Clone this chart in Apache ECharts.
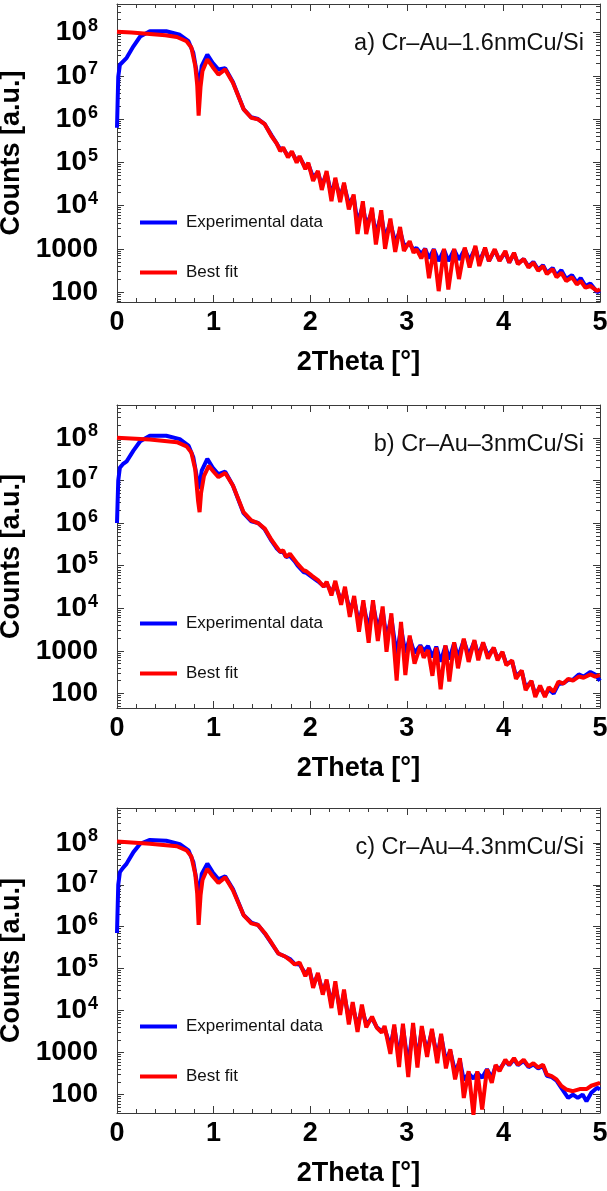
<!DOCTYPE html>
<html>
<head>
<meta charset="utf-8">
<script src="https://cdn.jsdelivr.net/npm/echarts@6/dist/echarts.min.js"></script>
<style>
  html, body { margin: 0; padding: 0; background: #fff; }
  #chart { width: 607px; height: 1191px; }
</style>
</head>
<body>
<div id="chart"></div>
<script>
// X-ray reflectivity curves: measured counts vs. 2Theta, with the best model fit.
// Each series is a list of [2Theta (deg), counts].

const sampleLabels = ['a) Cr\u2013Au\u20131.6nmCu/Si', 'b) Cr\u2013Au\u20133nmCu/Si', 'c) Cr\u2013Au\u20134.3nmCu/Si'];
const seriesNames = ['Experimental data', 'Best fit'];
const xTickValues = [0, 1, 2, 3, 4, 5];
const yDecades = [2, 3, 4, 5, 6, 7, 8];

// ---- a) 1.6 nm Cu ----
const expA = [
  [0, 6.3e5], [0.013, 9.5e6], [0.03, 1.8e7], [0.05, 2.0e7], [0.1, 2.6e7], [0.17, 4.8e7], [0.24, 8.1e7],
  [0.34, 1.07e8], [0.51, 1.07e8], [0.65, 8.9e7], [0.74, 6.3e7], [0.79, 3.4e7], [0.825, 1.2e7], [0.845, 4.0e6],
  [0.877, 1.7e7], [0.935, 3.1e7], [0.99, 2.0e7], [1.05, 1.4e7], [1.12, 1.5e7], [1.2, 7.2e6], [1.31, 1.7e6],
  [1.39, 1.1e6], [1.46, 1.0e6], [1.53, 7.6e5], [1.6, 4.2e5], [1.65, 2.8e5], [1.69, 2.0e5], [1.72, 2.1e5],
  [1.77, 1.4e5], [1.81, 1.7e5], [1.86, 1.07e5], [1.89, 1.3e5], [1.95, 7.6e4], [1.98, 9.1e4], [2.03, 4.5e4],
  [2.08, 5.9e4], [2.12, 2.9e4], [2.17, 5.5e4], [2.22, 1.8e4], [2.26, 3.8e4], [2.31, 1.6e4], [2.35, 3.0e4],
  [2.40, 1.1e4], [2.45, 1.6e4], [2.49, 4.0e3], [2.545, 1.0e4], [2.58, 3.5e3], [2.64, 7.1e3], [2.68, 2.2e3],
  [2.735, 6.0e3], [2.775, 1.8e3], [2.83, 4.0e3], [2.88, 1.4e3], [2.93, 2.6e3], [2.97, 1.2e3], [3.03, 1.3e3],
  [3.07, 950], [3.10, 1050], [3.15, 760], [3.19, 1000], [3.23, 600], [3.28, 980], [3.33, 520], [3.385, 950],
  [3.43, 520], [3.49, 950], [3.54, 560], [3.60, 980], [3.65, 540], [3.71, 1050], [3.75, 500], [3.81, 1000],
  [3.85, 520], [3.91, 930], [3.96, 540], [4.02, 830], [4.06, 480], [4.11, 780], [4.15, 460], [4.21, 580],
  [4.26, 390], [4.31, 500], [4.36, 330], [4.41, 420], [4.45, 280], [4.51, 360], [4.55, 240], [4.60, 320],
  [4.65, 200], [4.71, 245], [4.76, 166], [4.80, 210], [4.85, 138], [4.90, 158], [4.97, 100], [5.0, 107]
];
const fitA = [
  [0, 1.05e8], [0.15, 1.0e8], [0.34, 9.3e7], [0.5, 8.7e7], [0.62, 7.9e7], [0.72, 6.3e7], [0.77, 4.5e7],
  [0.81, 1.7e7], [0.83, 6.3e6], [0.845, 1.2e6], [0.865, 5.6e6], [0.885, 1.3e7], [0.935, 2.4e7], [0.99, 1.6e7],
  [1.05, 1.07e7], [1.12, 1.4e7], [1.2, 6.9e6], [1.31, 1.7e6], [1.39, 1.07e6], [1.46, 9.8e5], [1.53, 7.6e5],
  [1.6, 4.0e5], [1.65, 2.8e5], [1.69, 1.8e5], [1.72, 2.2e5], [1.77, 1.3e5], [1.81, 1.8e5], [1.86, 9.8e4],
  [1.89, 1.4e5], [1.95, 6.9e4], [1.98, 9.8e4], [2.03, 3.7e4], [2.08, 6.3e4], [2.12, 2.3e4], [2.17, 6.3e4],
  [2.22, 1.26e4], [2.26, 4.4e4], [2.31, 1.2e4], [2.35, 3.4e4], [2.40, 8.1e3], [2.45, 1.8e4], [2.49, 2.2e3],
  [2.545, 1.26e4], [2.58, 2.2e3], [2.64, 8.9e3], [2.68, 1.26e3], [2.735, 7.8e3], [2.775, 1.0e3], [2.83, 5.0e3],
  [2.88, 850], [2.93, 3.2e3], [2.97, 890], [3.03, 1.5e3], [3.07, 810], [3.10, 980], [3.15, 600], [3.19, 1000],
  [3.23, 210], [3.28, 980], [3.33, 105], [3.385, 1000], [3.43, 115], [3.49, 1000], [3.54, 200], [3.60, 1070],
  [3.65, 370], [3.71, 1170], [3.75, 400], [3.81, 1070], [3.85, 520], [3.91, 980], [3.96, 520], [4.02, 890],
  [4.06, 480], [4.11, 810], [4.15, 440], [4.21, 580], [4.26, 370], [4.31, 480], [4.36, 310], [4.41, 400],
  [4.45, 260], [4.51, 340], [4.55, 220], [4.60, 280], [4.65, 180], [4.71, 220], [4.76, 150], [4.80, 180],
  [4.85, 126], [4.90, 138], [4.97, 107], [5.0, 115]
];

// ---- b) 3 nm Cu ----
const expB = [
  [0, 1.0e6], [0.013, 1.0e7], [0.03, 2.0e7], [0.06, 2.4e7], [0.1, 2.8e7], [0.17, 5.0e7], [0.24, 8.3e7],
  [0.34, 1.12e8], [0.51, 1.12e8], [0.65, 9.3e7], [0.74, 6.6e7], [0.79, 3.5e7], [0.825, 1.26e7], [0.85, 6.3e6],
  [0.877, 1.7e7], [0.935, 3.2e7], [0.99, 2.0e7], [1.05, 1.4e7], [1.12, 1.6e7], [1.2, 7.6e6], [1.31, 1.7e6],
  [1.39, 1.1e6], [1.46, 1.0e6], [1.53, 7.1e5], [1.60, 3.8e5], [1.65, 2.6e5], [1.69, 2.1e5], [1.72, 2.1e5],
  [1.75, 1.6e5], [1.79, 1.7e5], [1.84, 1.26e5], [1.87, 1.0e5], [1.93, 7.1e4], [1.96, 6.8e4], [2.03, 5.2e4],
  [2.08, 4.3e4], [2.14, 3.3e4], [2.17, 3.8e4], [2.22, 2.4e4], [2.26, 3.6e4], [2.32, 1.5e4], [2.36, 2.6e4],
  [2.41, 8.9e3], [2.455, 1.6e4], [2.505, 4.5e3], [2.55, 1.26e4], [2.605, 3.2e3], [2.65, 1.26e4], [2.70, 3.2e3],
  [2.75, 8.9e3], [2.79, 2.0e3], [2.84, 6.0e3], [2.895, 790], [2.94, 3.5e3], [2.985, 890], [3.03, 2.0e3],
  [3.08, 890], [3.14, 1350], [3.175, 1000], [3.22, 1300], [3.265, 710], [3.305, 1260], [3.35, 560], [3.40, 1300],
  [3.44, 630], [3.49, 1500], [3.53, 710], [3.59, 1800], [3.64, 790], [3.70, 1650], [3.74, 790], [3.79, 1500],
  [3.84, 790], [3.90, 1150], [3.94, 660], [3.99, 910], [4.03, 500], [4.09, 560], [4.13, 260], [4.19, 330],
  [4.23, 140], [4.29, 190], [4.33, 95], [4.38, 140], [4.43, 89], [4.47, 126], [4.52, 100], [4.57, 166],
  [4.62, 174], [4.67, 210], [4.72, 210], [4.78, 280], [4.83, 250], [4.90, 320], [4.95, 280], [5.0, 200]
];
const fitB = [
  [0, 1.0e8], [0.34, 9.1e7], [0.62, 7.9e7], [0.72, 6.3e7], [0.77, 4.5e7], [0.81, 1.8e7], [0.84, 3.2e6],
  [0.855, 1.8e6], [0.87, 5.0e6], [0.9, 1.26e7], [0.95, 2.2e7], [1.0, 1.6e7], [1.05, 1.2e7], [1.12, 1.5e7],
  [1.2, 7.6e6], [1.31, 1.8e6], [1.39, 1.15e6], [1.46, 1.0e6], [1.53, 7.4e5], [1.60, 4.0e5], [1.65, 2.8e5],
  [1.69, 2.1e5], [1.72, 2.3e5], [1.75, 1.6e5], [1.79, 1.9e5], [1.84, 1.35e5], [1.87, 1.1e5], [1.93, 7.8e4],
  [1.96, 7.4e4], [2.0, 6.3e4], [2.03, 5.5e4], [2.08, 4.6e4], [2.14, 3.2e4], [2.17, 4.2e4], [2.22, 2.0e4],
  [2.26, 4.4e4], [2.32, 1.2e4], [2.36, 3.2e4], [2.41, 6.3e3], [2.455, 1.95e4], [2.505, 2.8e3], [2.55, 1.55e4],
  [2.605, 1.55e3], [2.65, 1.55e4], [2.70, 1.7e3], [2.75, 1.1e4], [2.79, 950], [2.84, 7.6e3], [2.895, 200],
  [2.94, 4.8e3], [2.985, 270], [3.03, 2.3e3], [3.08, 500], [3.14, 1300], [3.175, 690], [3.22, 1050],
  [3.265, 260], [3.305, 1200], [3.35, 126], [3.40, 1350], [3.44, 190], [3.49, 1600], [3.53, 390], [3.59, 1950],
  [3.64, 550], [3.70, 1800], [3.74, 600], [3.79, 1600], [3.84, 660], [3.90, 1200], [3.94, 600], [3.99, 950],
  [4.03, 460], [4.09, 600], [4.13, 220], [4.19, 350], [4.23, 120], [4.29, 200], [4.33, 83], [4.38, 155],
  [4.43, 83], [4.47, 140], [4.52, 110], [4.57, 190], [4.62, 170], [4.67, 220], [4.72, 200], [4.78, 250],
  [4.83, 235], [4.90, 280], [4.95, 250], [5.0, 270]
];

// ---- c) 4.3 nm Cu ----
const expC = [
  [0, 7.1e5], [0.013, 1.0e7], [0.03, 2.0e7], [0.06, 2.5e7], [0.1, 3.2e7], [0.17, 6.0e7], [0.24, 9.5e7],
  [0.34, 1.17e8], [0.51, 1.12e8], [0.65, 9.3e7], [0.74, 6.6e7], [0.79, 3.5e7], [0.825, 1.2e7], [0.845, 4.5e6],
  [0.877, 1.8e7], [0.935, 3.2e7], [0.99, 2.0e7], [1.05, 1.35e7], [1.12, 1.6e7], [1.2, 7.9e6], [1.31, 1.9e6],
  [1.39, 1.26e6], [1.46, 1.1e6], [1.53, 6.9e5], [1.60, 4.0e5], [1.67, 2.3e5], [1.74, 1.95e5], [1.79, 1.7e5],
  [1.84, 1.3e5], [1.89, 1.26e5], [1.95, 7.6e4], [1.99, 9.5e4], [2.03, 4.2e4], [2.08, 7.1e4], [2.13, 2.8e4],
  [2.17, 5.0e4], [2.22, 1.5e4], [2.26, 4.0e4], [2.31, 1.0e4], [2.35, 2.6e4], [2.40, 6.3e3], [2.44, 1.3e4],
  [2.49, 4.2e3], [2.535, 1.1e4], [2.58, 4.8e3], [2.64, 6.6e3], [2.69, 4.0e3], [2.74, 3.2e3], [2.77, 3.8e3],
  [2.83, 1.4e3], [2.87, 4.0e3], [2.92, 790], [2.96, 4.0e3], [3.015, 500], [3.065, 4.0e3], [3.11, 710],
  [3.155, 3.5e3], [3.21, 1100], [3.26, 3.2e3], [3.315, 790], [3.355, 2.5e3], [3.405, 630], [3.45, 1100],
  [3.50, 350], [3.55, 630], [3.59, 220], [3.64, 320], [3.69, 240], [3.73, 330], [3.78, 250], [3.83, 400],
  [3.88, 250], [3.92, 480], [3.96, 400], [4.02, 630], [4.06, 500], [4.11, 690], [4.15, 500], [4.21, 630],
  [4.26, 450], [4.31, 520], [4.36, 420], [4.41, 480], [4.45, 280], [4.50, 260], [4.55, 215], [4.61, 132],
  [4.67, 83], [4.72, 100], [4.77, 83], [4.82, 100], [4.86, 69], [4.91, 110], [4.97, 145], [5.0, 132]
];
const fitC = [
  [0, 1.07e8], [0.34, 9.5e7], [0.62, 8.3e7], [0.72, 6.6e7], [0.77, 4.7e7], [0.81, 1.8e7], [0.83, 6.3e6],
  [0.845, 1.1e6], [0.865, 5.6e6], [0.885, 1.3e7], [0.935, 2.4e7], [0.99, 1.6e7], [1.05, 1.1e7], [1.12, 1.5e7],
  [1.2, 7.4e6], [1.31, 1.9e6], [1.39, 1.2e6], [1.46, 1.1e6], [1.53, 7.1e5], [1.60, 4.1e5], [1.67, 2.3e5],
  [1.74, 1.95e5], [1.79, 1.6e5], [1.84, 1.26e5], [1.89, 1.4e5], [1.95, 6.6e4], [1.99, 1.05e5], [2.03, 3.5e4],
  [2.08, 7.9e4], [2.13, 2.4e4], [2.17, 5.5e4], [2.22, 1.15e4], [2.26, 5.0e4], [2.31, 7.9e3], [2.35, 3.2e4],
  [2.40, 4.7e3], [2.44, 1.6e4], [2.49, 3.1e3], [2.535, 1.4e4], [2.58, 4.0e3], [2.64, 7.2e3], [2.69, 3.9e3],
  [2.74, 3.0e3], [2.77, 4.3e3], [2.83, 930], [2.87, 4.7e3], [2.92, 450], [2.96, 4.9e3], [3.015, 260],
  [3.065, 5.1e3], [3.11, 440], [3.155, 4.3e3], [3.21, 790], [3.26, 3.7e3], [3.315, 560], [3.355, 2.8e3],
  [3.405, 420], [3.45, 1200], [3.50, 230], [3.55, 740], [3.59, 83], [3.64, 360], [3.69, 33], [3.73, 360],
  [3.78, 44], [3.83, 400], [3.88, 190], [3.92, 510], [3.96, 360], [4.02, 680], [4.06, 510], [4.11, 740],
  [4.15, 510], [4.21, 680], [4.26, 470], [4.31, 560], [4.36, 440], [4.41, 510], [4.45, 300], [4.50, 275],
  [4.55, 230], [4.60, 160], [4.65, 132], [4.72, 120], [4.79, 135], [4.86, 135], [4.91, 162], [5.0, 190]
];

const panels = [
  { exp: expA, fit: fitA, label: sampleLabels[0], yMin: 1.77, yMax: 8.66, top: 4, bottom: 889 },
  { exp: expB, fit: fitB, label: sampleLabels[1], yMin: 1.66, yMax: 8.77, top: 405, bottom: 483 },
  { exp: expC, fit: fitC, label: sampleLabels[2], yMin: 1.56, yMax: 8.83, top: 808, bottom: 78 }
];

const FONT = '"Liberation Sans", Arial, sans-serif';
const FRAME = '#3a3a3a';
const BLUE = '#0000ff';
const RED = '#ff0000';
const AXIS_FONT = 27;
const TICK_FONT = 28;

// counts are plotted on a log10 scale
const toLog = pts => pts.map(([x, c]) => [x, Math.log10(c)]);

// minor ticks at 2..9 x 10^n
function minorLogTicks(lo, hi) {
  const out = [];
  for (let n = Math.floor(lo); n <= Math.ceil(hi); n++) {
    for (let k = 2; k <= 9; k++) {
      const v = n + Math.log10(k);
      if (v > lo && v < hi) out.push(v);
    }
  }
  return out;
}

function decadeLabel(v) {
  const n = Math.round(v);
  if (n === 2) return '{b|100}';
  if (n === 3) return '{b|1000}';
  return '{b|10}{s|' + n + '}';
}

const grid = [], xAxis = [], yAxis = [], series = [], legend = [], graphic = [];

panels.forEach((p, i) => {
  grid.push({
    left: 117, right: 7, top: p.top, bottom: p.bottom,
    containLabel: false, outerBoundsMode: 'none'
  });

  const xBase = {
    gridIndex: i, type: 'value', min: 0, max: 5, interval: 1,
    axisLine: { show: true, onZero: false, lineStyle: { color: FRAME, width: 1 } },
    axisTick: { show: true, inside: true, length: 7, lineStyle: { color: FRAME } },
    minorTick: { show: true, splitNumber: 5, length: 4, lineStyle: { color: FRAME } },
    splitLine: { show: false }
  };
  xAxis.push(Object.assign({}, xBase, {
    position: 'bottom',
    axisLabel: {
      show: true, margin: 7, color: '#000', fontSize: AXIS_FONT, fontWeight: 'bold', fontFamily: FONT,
      customValues: xTickValues
    },
    name: '2Theta [\u00b0]', nameLocation: 'middle', nameGap: 47,
    nameTextStyle: { color: '#000', fontSize: AXIS_FONT, fontWeight: 'bold', fontFamily: FONT }
  }));
  xAxis.push(Object.assign({}, xBase, { position: 'top', axisLabel: { show: false } }));

  const minors = minorLogTicks(p.yMin, p.yMax);
  const yBase = {
    gridIndex: i, type: 'value', min: p.yMin, max: p.yMax,
    splitLine: { show: false }
  };
  // left: frame, decade ticks and labels
  yAxis.push(Object.assign({}, yBase, {
    position: 'left',
    axisLine: { show: true, onZero: false, lineStyle: { color: FRAME, width: 1 } },
    axisTick: { show: true, inside: true, length: 7, customValues: yDecades, lineStyle: { color: FRAME } },
    axisLabel: {
      show: true, margin: 19, customValues: yDecades, formatter: decadeLabel,
      rich: {
        b: { fontSize: TICK_FONT, fontWeight: 'bold', color: '#000', fontFamily: FONT },
        s: { fontSize: 18, fontWeight: 'bold', color: '#000', fontFamily: FONT, verticalAlign: 'top', padding: [0, 0, 13, 1] }
      }
    },
    name: 'Counts [a.u.]', nameLocation: 'middle', nameGap: 76,
    nameTextStyle: { color: '#000', fontSize: AXIS_FONT, fontWeight: 'bold', fontFamily: FONT }
  }));
  // left: minor ticks
  yAxis.push(Object.assign({}, yBase, {
    position: 'left',
    axisLine: { show: false, onZero: false },
    axisTick: { show: true, inside: true, length: 4, customValues: minors, lineStyle: { color: FRAME } },
    axisLabel: { show: false }
  }));
  // right: frame and mirrored ticks
  yAxis.push(Object.assign({}, yBase, {
    position: 'right',
    axisLine: { show: true, onZero: false, lineStyle: { color: FRAME, width: 1 } },
    axisTick: { show: true, inside: true, length: 7, customValues: yDecades, lineStyle: { color: FRAME } },
    axisLabel: { show: false }
  }));
  yAxis.push(Object.assign({}, yBase, {
    position: 'right',
    axisLine: { show: false, onZero: false },
    axisTick: { show: true, inside: true, length: 4, customValues: minors, lineStyle: { color: FRAME } },
    axisLabel: { show: false }
  }));

  const common = {
    type: 'line', xAxisIndex: 2 * i, yAxisIndex: 4 * i,
    showSymbol: false, symbol: 'none', clip: true, animation: false
  };
  series.push(Object.assign({}, common, {
    name: seriesNames[0], data: toLog(p.exp),
    lineStyle: { color: BLUE, width: 4 }, itemStyle: { color: BLUE }, z: 2
  }));
  series.push(Object.assign({}, common, {
    name: seriesNames[1], data: toLog(p.fit),
    lineStyle: { color: RED, width: 4 }, itemStyle: { color: RED }, z: 3
  }));

  legend.push({
    data: seriesNames, orient: 'vertical', left: 140, top: p.top + 210,
    padding: 0, itemGap: 33, itemWidth: 37, itemHeight: 4, icon: 'rect',
    selectedMode: false,
    textStyle: { fontSize: 17, color: '#111', fontFamily: FONT, padding: [0, 0, 0, 4] }
  });

  graphic.push({
    type: 'text', right: 23, top: p.top + 28,
    style: { text: p.label, font: '23.5px ' + FONT, fill: '#111' }
  });
});

const chart = echarts.init(document.getElementById('chart'), null, { renderer: 'canvas' });
chart.setOption({
  backgroundColor: '#fff',
  animation: false,
  grid, xAxis, yAxis, series, legend, graphic
});
</script>
</body>
</html>
